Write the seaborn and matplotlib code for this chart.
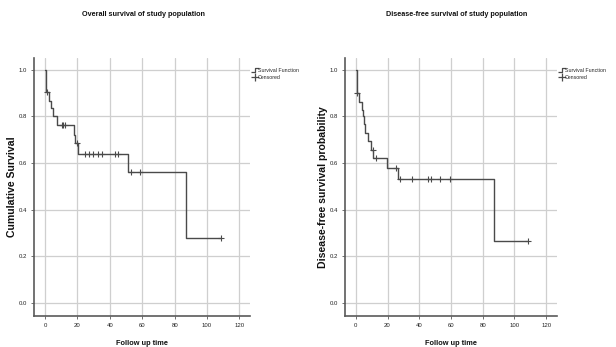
import numpy as np
import pandas as pd
import matplotlib
matplotlib.use("Agg")
import matplotlib.pyplot as plt
from matplotlib.path import Path
from matplotlib.lines import Line2D
import seaborn as sns

# Overall survival: step times and survival estimate after each step
os_time = [0, 0.4, 0.8, 2.2, 3.8, 5.2, 7.3, 17.6, 18.8, 20.6, 51.0, 87.0, 108.6]
os_surv = [1.0, 0.967, 0.903, 0.868, 0.835, 0.80, 0.764, 0.72, 0.685, 0.64, 0.56, 0.28, 0.28]
# Overall survival: censored cases
os_cens_time = [1.2, 10.4, 11.4, 12.4, 19.5, 24.7, 27.4, 29.8, 32.5, 35.0, 43.1, 45.2,
                52.9, 58.9, 108.6]
os_cens_surv = [0.903, 0.764, 0.764, 0.764, 0.685, 0.64, 0.64, 0.64, 0.64, 0.64, 0.64, 0.64,
                0.56, 0.56, 0.28]

# Disease-free survival: step times and survival estimate after each step
dfs_time = [0, 0.8, 2.1, 3.8, 4.6, 5.1, 5.6, 8.0, 9.3, 11.0, 19.4, 26.8, 87.2, 108.8]
dfs_surv = [1.0, 0.90, 0.864, 0.83, 0.80, 0.767, 0.731, 0.693, 0.657, 0.624, 0.581, 0.53,
            0.266, 0.266]
# Disease-free survival: censored cases
dfs_cens_time = [1.0, 10.7, 12.6, 25.3, 27.8, 35.2, 45.7, 47.5, 53.0, 59.4, 108.8]
dfs_cens_surv = [0.90, 0.657, 0.624, 0.581, 0.53, 0.53, 0.53, 0.53, 0.53, 0.53, 0.266]

x_ticks = [0, 20, 40, 60, 80, 100, 120]
y_ticks = [0.0, 0.2, 0.4, 0.6, 0.8, 1.0]

sns.set_theme(style="white")
plt.rcParams["font.family"] = ["Liberation Sans", "DejaVu Sans"]

line_col = "#4a4a4a"
grid_col = "#cfcfcf"

fig = plt.figure(figsize=(6.16, 3.47), dpi=100)
ax1 = fig.add_axes([34 / 616, 1 - 316 / 347, 216 / 616, 258 / 347])
ax2 = fig.add_axes([345 / 616, 1 - 316 / 347, 211.5 / 616, 258 / 347])

# step-shaped legend glyph
step_marker = Path([(-1.0, -0.45), (0.0, -0.45), (0.0, 0.45), (1.0, 0.45)],
                   [Path.MOVETO, Path.LINETO, Path.LINETO, Path.LINETO])


def draw_km(ax, t, s, ct, cs, title, ylabel, title_x, ylab_x):
    df = pd.DataFrame({"time": t, "surv": s})
    cf = pd.DataFrame({"time": ct, "surv": cs})
    sns.lineplot(data=df, x="time", y="surv", ax=ax, drawstyle="steps-post",
                 estimator=None, color=line_col, linewidth=1.0, zorder=3)
    sns.scatterplot(data=cf, x="time", y="surv", ax=ax, marker="+", s=14,
                    color=line_col, linewidth=0.8, zorder=4)
    ax.set_xlim(-6.8, 126.5)
    ax.set_ylim(-0.056, 1.051)
    ax.set_xticks(x_ticks)
    ax.set_xticklabels([str(v) for v in x_ticks])
    ax.set_yticks(y_ticks)
    ax.set_yticklabels([f"{v:.1f}" for v in y_ticks])
    ax.grid(True, color=grid_col, linewidth=0.9)
    ax.set_axisbelow(True)
    for side in ("top", "right"):
        ax.spines[side].set_visible(False)
    for side in ("left", "bottom"):
        ax.spines[side].set_color("#5a5a5a")
        ax.spines[side].set_linewidth(1.2)
    ax.tick_params(axis="both", labelsize=4.3, length=2, width=0.6, color="#5a5a5a",
                   pad=3, labelcolor="#222222", bottom=True, left=True)
    ax.set_xlabel("Follow up time", fontsize=5.3, fontweight="bold", labelpad=9,
                  color="#111111")
    ax.set_ylabel(ylabel, fontsize=7.6, fontweight="bold", color="#111111")
    ax.yaxis.set_label_coords(ylab_x, 0.5)
    fig.text(title_x, 1 - 14 / 347, title, ha="center", va="center", fontsize=5.2,
             fontweight="bold", color="#111111")
    handles = [
        Line2D([], [], linestyle="none", marker=step_marker, markersize=6,
               markeredgecolor=line_col, markerfacecolor="none", markeredgewidth=0.9),
        Line2D([], [], linestyle="none", marker="+", markersize=5.5,
               markeredgecolor=line_col, markeredgewidth=0.9),
    ]
    ax.legend(handles, ["Survival Function", "Censored"], loc="upper left",
              bbox_to_anchor=(1.0, 0.975), frameon=False, fontsize=3.8,
              handlelength=0.8, handletextpad=0.15, labelspacing=0.45,
              borderaxespad=0.2)


draw_km(ax1, os_time, os_surv, os_cens_time, os_cens_surv,
        "Overall survival of study population", "Cumulative Survival",
        144 / 616, (17.5 - 34) / 216)
draw_km(ax2, dfs_time, dfs_surv, dfs_cens_time, dfs_cens_surv,
        "Disease-free survival of study population", "Disease-free survival probability",
        457 / 616, (328 - 345) / 211.5)

fig.savefig("out.png", dpi=100)
